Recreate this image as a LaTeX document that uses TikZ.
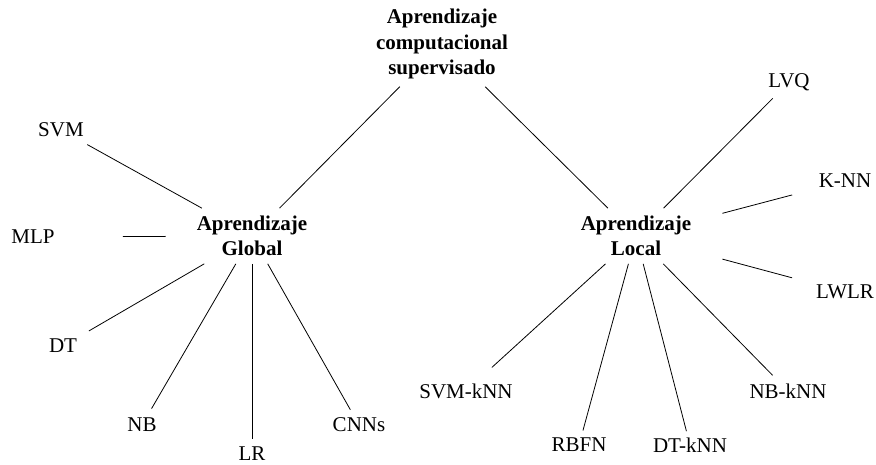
\documentclass[tikz,border=0pt]{standalone}
\usepackage{fontspec}
\setmainfont{Liberation Serif}
\begin{document}
\begin{tikzpicture}[x=1pt,y=-1pt,
  every node/.style={font=\fontsize{21}{25.5}\selectfont},
  hub/.style={align=center,font=\fontsize{21}{25.5}\selectfont\bfseries,
    inner xsep=31pt,inner ysep=7.5pt},
  leaf/.style={inner sep=0pt},
  link/.style={line width=0.8pt,shorten >=#1}]
\useasboundingbox (0,0) rectangle (876,464);

% root and the two families
\node[hub] (root)   at (442,44)  {Aprendizaje\\computacional\\supervisado};
\node[hub] (global) at (252,236) {Aprendizaje\\Global};
\node[hub] (local)  at (636,236) {Aprendizaje\\Local};

% global methods
\node[leaf] (svm)  at (61,130)  {SVM};
\node[leaf] (mlp)  at (33,237)  {MLP};
\node[leaf] (dt)   at (63,346)  {DT};
\node[leaf] (nb)   at (142,425) {NB};
\node[leaf] (lr)   at (252,454) {LR};
\node[leaf] (cnns) at (359,425) {CNNs};

% local methods
\node[leaf] (lvq)    at (789,82)  {LVQ};
\node[leaf] (knn)    at (845,181) {K-NN};
\node[leaf] (lwlr)   at (845,292) {LWLR};
\node[leaf] (svmknn) at (466,391) {SVM-kNN};
\node[leaf] (rbfn)   at (579,445) {RBFN};
\node[leaf] (dtknn)  at (690,445) {DT-kNN};
\node[leaf] (nbknn)  at (788,391) {NB-kNN};

\draw[link=0pt] (root) -- (global);
\draw[link=0pt] (root) -- (local);

\draw[link=30pt] (global) -- (svm.center);
\draw[link=90pt] (global) -- (mlp.center);
\draw[link=30pt] (global) -- (dt.center);
\draw[link=19pt] (global) -- (nb.center);
\draw[link=15pt] (global) -- (lr.center);
\draw[link=17.5pt] (global) -- (cnns.center);

\draw[link=23pt] (local) -- (lvq.center);
\draw[link=54.6pt] (local) -- (knn.center);
\draw[link=54.8pt] (local) -- (lwlr.center);
\draw[link=35pt] (local) -- (svmknn.center);
\draw[link=15pt] (local) -- (rbfn.center);
\draw[link=14.3pt] (local) -- (dtknn.center);
\draw[link=22pt] (local) -- (nbknn.center);
\end{tikzpicture}
\end{document}
